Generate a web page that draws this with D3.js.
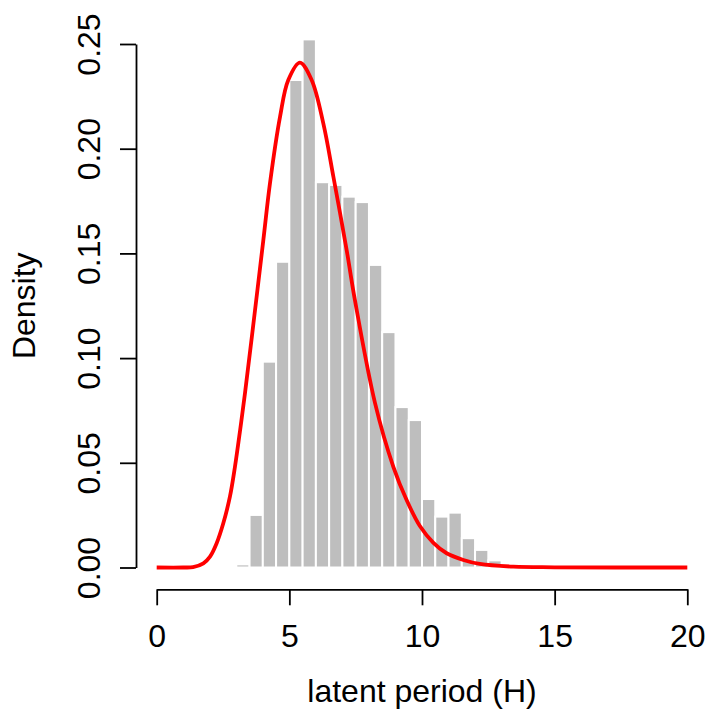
<!DOCTYPE html>
<html>
  <head>
    <meta charset="UTF-8" />
    <style>
      body {
        margin: 0;
        background: #fff;
        font-family: "Liberation Sans", Arial, Helvetica, sans-serif;
      }
      svg {
        display: block;
      }
    </style>
  </head>
  <body>
    <svg></svg>
    <script src="https://d3js.org/d3.v7.min.js"></script>
    <script>
      // Histogram bins (left edges, width 0.5) and their densities
      const binStart = [3, 3.5, 4, 4.5, 5, 5.5, 6, 6.5, 7, 7.5, 8, 8.5, 9, 9.5, 10, 10.5, 11, 11.5, 12, 12.5];
      const binWidth = 0.5;
      const density = [0.0015, 0.0251, 0.0983, 0.146, 0.2328, 0.2522, 0.184, 0.1827, 0.1771, 0.1745,
        0.1445, 0.1124, 0.0766, 0.0704, 0.0327, 0.0243, 0.0262, 0.014, 0.0084, 0.0034];

      // Fitted density curve
      const curveX = [0, 1, 1.37, 1.76, 2.01, 2.26, 2.51, 2.76, 2.95, 3.14, 3.33, 3.58, 4.02, 4.27, 4.65,
        4.96, 5.4, 5.84, 6.28, 6.66, 7.16, 7.47, 8.23, 8.92, 9.42, 9.92, 10.43, 10.93, 11.56,
        12.18, 13.44, 15, 20];
      const curveY = [0, 0, 0.0002, 0.002, 0.0052, 0.0116, 0.0211, 0.0338, 0.0481, 0.0652, 0.0835, 0.1095,
        0.1564, 0.1835, 0.2153, 0.2328, 0.2411, 0.2328, 0.2121, 0.1866, 0.1516, 0.1278, 0.0785,
        0.0481, 0.0322, 0.0198, 0.0118, 0.0068, 0.0036, 0.0017, 0.0004, 0.0001, 0];

      const xTicks = [0, 5, 10, 15, 20];
      const yTicks = [0, 0.05, 0.1, 0.15, 0.2, 0.25];

      let width = 709,
        height = 714;

      let svg = d3.select("svg").attr("width", width).attr("height", height);

      let x = d3.scaleLinear().domain([0, 20]).range([156.7, 687.3]);
      let y = d3.scaleLinear().domain([0, 0.25]).range([567.5, 44]);

      //Bars
      svg
        .append("g")
        .selectAll("rect")
        .data(binStart)
        .enter()
        .append("rect")
        .attr("x", (d) => x(d))
        .attr("width", (d) => x(d + binWidth) - x(d))
        .attr("y", (d, i) => y(density[i]))
        .attr("height", (d, i) => y(0) - y(density[i]))
        .attr("fill", "#bebebe")
        .attr("stroke", "#fff")
        .attr("stroke-width", 2);

      //Curve
      let line = d3
        .line()
        .x((d) => x(d))
        .y((d, i) => y(curveY[i]))
        .curve(d3.curveCatmullRom.alpha(0.5));

      svg
        .append("path")
        .attr("d", line(curveX))
        .attr("fill", "none")
        .attr("stroke", "#ff0000")
        .attr("stroke-width", 3.8)
        .attr("stroke-linejoin", "round");

      //Axes
      let xAxis = svg
        .append("g")
        .attr("transform", "translate(0,589.3)")
        .call(d3.axisBottom(x).tickValues(xTicks).tickSize(16).tickSizeOuter(0).tickFormat(d3.format("d")));

      xAxis
        .selectAll("text")
        .attr("y", 58)
        .attr("dy", null)
        .style("font-size", "32px")
        .style("font-family", "Liberation Sans, Arial, sans-serif")
        .attr("fill", "#000");

      let yAxis = svg
        .append("g")
        .attr("transform", "translate(136,0)")
        .call(d3.axisLeft(y).tickValues(yTicks).tickSize(16).tickSizeOuter(0).tickFormat(d3.format(".2f")));

      yAxis
        .selectAll("text")
        .attr("transform", "rotate(-90)")
        .attr("x", 0)
        .attr("y", -36)
        .attr("dy", null)
        .attr("text-anchor", "middle")
        .style("font-size", "32px")
        .style("font-family", "Liberation Sans, Arial, sans-serif")
        .attr("fill", "#000");

      svg.selectAll(".domain, .tick line").attr("stroke", "#000").attr("stroke-width", 1.8);

      //Titles
      svg
        .append("text")
        .attr("x", (x(0) + x(20)) / 2)
        .attr("y", 702)
        .attr("text-anchor", "middle")
        .style("font-size", "32px")
        .text("latent period (H)");

      svg
        .append("text")
        .attr("transform", "translate(35," + (y(0) + y(0.25)) / 2 + ") rotate(-90)")
        .attr("text-anchor", "middle")
        .style("font-size", "32px")
        .text("Density");
    </script>
  </body>
</html>
